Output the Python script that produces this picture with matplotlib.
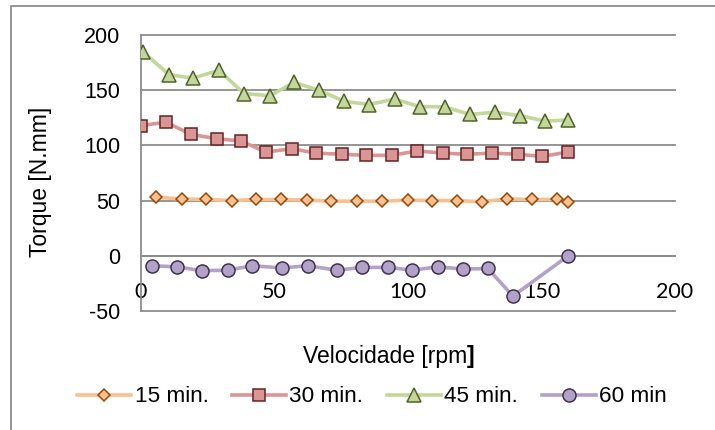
import matplotlib
matplotlib.use("Agg")
import matplotlib.pyplot as plt
from matplotlib.patches import Rectangle

# ensaio 15 min
rpm_15 = [5.6, 15.4, 24.3, 34.1, 43.1, 52.4, 62.2, 71.2, 80.9, 90.3,
          100.0, 109.0, 118.4, 127.7, 137.1, 146.4, 155.8, 160.0]
torque_15 = [53, 51.5, 51, 50, 51, 51, 50.5, 49.5, 49.5, 49.5,
             50.5, 50, 50, 49, 51.5, 51, 51, 49]

# ensaio 30 min
rpm_30 = [0.0, 9.4, 18.7, 28.5, 37.5, 46.8, 56.6, 65.5, 75.1, 84.3,
          94.0, 103.4, 113.1, 122.1, 131.5, 141.2, 150.2, 160.0]
torque_30 = [118, 121, 110, 106, 104, 94, 97, 93, 92, 91,
             91, 95, 93, 92, 93, 92, 90, 94]

# ensaio 45 min
rpm_45 = [0.7, 10.5, 19.5, 29.2, 38.6, 48.3, 57.3, 66.7, 76.0, 85.4,
          95.0, 104.4, 113.7, 123.1, 132.5, 141.9, 151.3, 160.0]
torque_45 = [185, 164, 161, 168, 147, 145, 157, 150, 140, 137,
             142, 135, 135, 128, 130, 127, 122, 123]

# ensaio 60 min
rpm_60 = [4.0, 13.6, 22.7, 32.5, 41.7, 52.7, 62.4, 73.3, 82.9, 92.5,
          101.6, 111.2, 120.5, 129.9, 139.3, 160.0]
torque_60 = [-9, -10, -13.5, -13, -9, -11, -9, -13, -10.5, -10.5,
             -13, -10, -12, -11.5, -36.5, 0]

labels = ["15 min.", "30 min.", "45 min.", "60 min"]
x_ticks = [0, 50, 100, 150, 200]
y_ticks = [-50, 0, 50, 100, 150, 200]

W, H = 715, 430
fig = plt.figure(figsize=(W / 100, H / 100), dpi=100)
ax = fig.add_axes([141 / W, 1 - 311 / H, (675 - 141) / W, (311 - 35) / H])

series = [
    (rpm_15, torque_15, "D", 6.6, "#FAC090", "#984807"),
    (rpm_30, torque_30, "s", 9.2, "#D99694", "#632423"),
    (rpm_45, torque_45, "^", 9.4, "#C3D69B", "#4F6228"),
    (rpm_60, torque_60, "o", 9.4, "#B3A2C7", "#3F3151"),
]
handles = []
for (xs, ys, mk, ms, cor, borda), lab in zip(series, labels):
    h, = ax.plot(xs, ys, color=cor, lw=2.6, marker=mk, markersize=ms,
                 markerfacecolor=cor, markeredgecolor=borda,
                 markeredgewidth=1.1, label=lab, zorder=3)
    handles.append(h)

grid_color = "#8C8C8C"
# eixo x cruza em y = 0 (tem que vir antes dos ticks, senao reseta)
for s in ["top", "right"]:
    ax.spines[s].set_visible(False)
ax.spines["bottom"].set_position(("data", 0))
ax.spines["bottom"].set_color(grid_color)
ax.spines["bottom"].set_linewidth(1.3)
ax.spines["left"].set_color(grid_color)
ax.spines["left"].set_linewidth(1.3)

ax.set_xlim(0, 200)
ax.set_ylim(-50, 200)
ax.set_xticks(x_ticks)
ax.set_yticks(y_ticks)
ax.set_xticklabels([str(v) for v in x_ticks], family="Lato", fontsize=15.5)
ax.set_yticklabels([str(v) for v in y_ticks], family="Liberation Sans", fontsize=15.5)
ax.tick_params(axis="x", length=0, pad=19)
ax.tick_params(axis="y", length=0, pad=15)
ax.grid(axis="y", color=grid_color, lw=1.3)
for gl in ax.get_ygridlines():
    gl.set_clip_on(False)

# titulos dos eixos
fig.text(41 / W, 1 - 182 / H, "Torque [N.mm]", rotation=90, ha="center", va="center",
         family="Liberation Sans", fontsize=16.5)
fig.text(467 / W, 1 - 357 / H, "Velocidade [rpm", ha="right", va="center",
         family="Liberation Sans", fontsize=16.5)
fig.text(467 / W, 1 - 357 / H, "]", ha="left", va="center",
         family="Liberation Sans", fontsize=16.5, fontweight="bold")

fig.legend(handles=handles, loc="center", bbox_to_anchor=(372 / W, 1 - 397 / H),
           ncol=4, frameon=False, handlelength=2.4, handletextpad=0.15,
           columnspacing=1.05, prop={"family": "Liberation Sans", "size": 16.2})

# borda da area do grafico
fig.patches.append(Rectangle((11 / W, -0.1), 1.2, 1 - 6 / H + 0.1,
                             transform=fig.transFigure, fill=False,
                             edgecolor="#8C8C8C", lw=1.3))

fig.savefig("out.png", dpi=100)
